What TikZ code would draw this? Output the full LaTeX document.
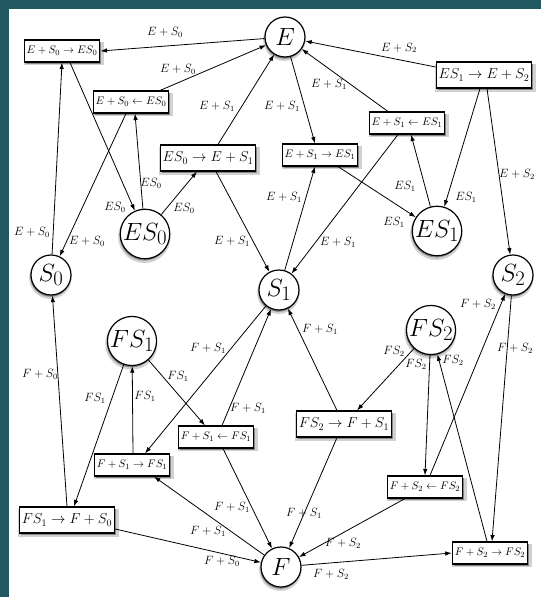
\documentclass[tikz,border=0pt]{standalone}
\usetikzlibrary{arrows.meta,shadows}
\definecolor{framecol}{RGB}{33,87,97}
\begin{document}
\begin{tikzpicture}[x=1pt,y=-1pt,
  softshadow/.style={
    drop shadow={shadow xshift=#1, shadow yshift=-2.6pt, opacity=0.18, fill=black, shadow scale=1.06},
    drop shadow={shadow xshift=#1, shadow yshift=-1.8pt, opacity=0.35, fill=black}},
  state/.style={circle, draw, line width=1.2pt, fill=white, minimum size=40pt, inner sep=0pt,
    font=\fontsize{24.88}{26}\selectfont, softshadow=-0.6pt},
  rxn/.style={rectangle, draw, line width=1.1pt, fill=white, inner xsep=2.5pt, inner ysep=0pt,
    minimum height=22pt, font=\fontsize{10.95}{12}\selectfont, softshadow=1.6pt},
  bigrxn/.style={rxn, minimum height=26pt, font=\fontsize{14.4}{16}\selectfont},
  lbl/.style={font=\fontsize{12}{13}\selectfont, inner sep=0pt},
  arr/.style={-{Latex[length=6.5pt,width=4.5pt]}, line width=0.8pt}]
\fill[framecol] (0,0) rectangle (541,597);
\fill[white] (9,9) rectangle (541,597);
\useasboundingbox (0,0) rectangle (541,597);

% states
\node[state] (E)   at (285,37)  {$E$};
\node[state] (S0)  at (51,275)  {$S_0$};
\node[state] (ES0) at (145,234) {$ES_0$};
\node[state] (S1)  at (279,290) {$S_1$};
\node[state] (ES1) at (437,231) {$ES_1$};
\node[state] (S2)  at (513,275) {$S_2$};
\node[state] (FS1) at (132,341) {$FS_1$};
\node[state] (FS2) at (431,330) {$FS_2$};
\node[state] (F)   at (281,567) {$F$};

% reactions
\node[rxn]    (Ba) at (62,51)   {$E+S_0\to ES_0$};
\node[rxn]    (Bb) at (131,102) {$E+S_0\leftarrow ES_0$};
\node[bigrxn] (Bc) at (208,158) {$ES_0\to E+S_1$};
\node[rxn]    (Bd) at (320,155) {$E+S_1\to ES_1$};
\node[rxn]    (Be) at (407,123) {$E+S_1\leftarrow ES_1$};
\node[bigrxn] (Bf) at (484,75)  {$ES_1\to E+S_2$};
\node[rxn]    (Bg) at (216,437) {$F+S_1\leftarrow FS_1$};
\node[rxn]    (Bh) at (132,465) {$F+S_1\to FS_1$};
\node[bigrxn] (Bi) at (67,520)  {$FS_1\to F+S_0$};
\node[bigrxn] (Bj) at (344,424) {$FS_2\to F+S_1$};
\node[rxn]    (Bk) at (425,487) {$F+S_2\leftarrow FS_2$};
\node[rxn]    (Bl) at (490,553) {$F+S_2\to FS_2$};

% upper half
\draw[arr] (E) -- (Ba.east) node[lbl] at (165,32) {$E+S_0$};
\draw[arr] ([xshift=29pt]Bb.north) -- (E) node[lbl] at (178,69) {$E+S_0$};
\draw[arr] ([xshift=10pt]Bc.north) -- (E) node[lbl] at (217,106) {$E+S_1$};
\draw[arr] (E) -- ([xshift=-5pt]Bd.north) node[lbl] at (282,106) {$E+S_1$};
\draw[arr] ([xshift=-19pt]Be.north) -- (E) node[lbl] at (329,84) {$E+S_1$};
\draw[arr] ([yshift=8pt]Bf.west) -- (E) node[lbl] at (399,48) {$E+S_2$};
\draw[arr] ([xshift=8pt]Ba.south) -- (ES0) node[lbl] at (115,207) {$ES_0$};
\draw[arr] (S0) -- (Ba.south) node[lbl] at (32,232) {$E+S_0$};
\draw[arr] ([xshift=-5pt]Bb.south) -- (S0) node[lbl] at (87,241) {$E+S_0$};
\draw[arr] (ES0) -- ([xshift=4pt]Bb.south) node[lbl] at (151,183) {$ES_0$};
\draw[arr] (ES0) -- ([xshift=-11pt]Bc.south) node[lbl] at (184,208) {$ES_0$};
\draw[arr] ([xshift=8pt]Bc.south) -- (S1) node[lbl] at (232,241) {$E+S_1$};
\draw[arr] (S1) -- ([xshift=-5pt]Bd.south) node[lbl] at (284,197) {$E+S_1$};
\draw[arr] ([xshift=18pt]Bd.south) -- (ES1) node[lbl] at (394,222) {$ES_1$};
\draw[arr] ([xshift=-9pt]Be.south) -- (S1) node[lbl] at (338,242) {$E+S_1$};
\draw[arr] (ES1) -- ([xshift=4pt]Be.south) node[lbl] at (405,186) {$ES_1$};
\draw[arr] ([xshift=-4pt]Bf.south) -- (ES1) node[lbl] at (466,197) {$ES_1$};
\draw[arr] ([xshift=3pt]Bf.south) -- (S2) node[lbl] at (517,174) {$E+S_2$};

% lower half
\draw[arr] (FS1) -- ([xshift=-11pt]Bg.north) node[lbl] at (178,376) {$FS_1$};
\draw[arr] ([xshift=6pt]Bg.north) -- (S1) node[lbl] at (248,408) {$F+S_1$};
\draw[arr] (S1) -- ([xshift=13pt]Bh.north) node[lbl] at (208,348) {$F+S_1$};
\draw[arr] ([xshift=1pt]Bh.north) -- (FS1) node[lbl] at (145,396) {$FS_1$};
\draw[arr] (FS1) -- ([xshift=7pt]Bi.north) node[lbl] at (95,398) {$FS_1$};
\draw[arr] (Bi.north) -- (S0) node[lbl] at (40,374) {$F+S_0$};
\draw[arr] ([yshift=-9pt]Bi.east) -- (F) node[lbl] at (222,561) {$F+S_0$};
\draw[arr] (F) -- ([xshift=22pt]Bh.south) node[lbl] at (208,531) {$F+S_1$};
\draw[arr] ([xshift=7pt]Bg.south) -- (F) node[lbl] at (232,507) {$F+S_1$};
\draw[arr] ([xshift=-7pt]Bj.north) -- (S1) node[lbl] at (320,329) {$F+S_1$};
\draw[arr] (FS2) -- ([xshift=13pt]Bj.north) node[lbl] at (394,351) {$FS_2$};
\draw[arr] ([xshift=-7pt]Bj.south) -- (F) node[lbl] at (304,513) {$F+S_1$};
\draw[arr] (FS2) -- (Bk.north) node[lbl] at (416,364) {$FS_2$};
\draw[arr] ([xshift=5pt]Bk.north) -- (S2) node[lbl] at (478,304) {$F+S_2$};
\draw[arr] ([xshift=-20pt]Bk.south) -- (F) node[lbl] at (343,543) {$F+S_2$};
\draw[arr] (F) -- (Bl.west) node[lbl] at (331,574) {$F+S_2$};
\draw[arr] ([xshift=-3pt]Bl.north) -- (FS2) node[lbl] at (453,360) {$FS_2$};
\draw[arr] (S2) -- ([xshift=2pt]Bl.north) node[lbl] at (515,348) {$F+S_2$};
\end{tikzpicture}
\end{document}
